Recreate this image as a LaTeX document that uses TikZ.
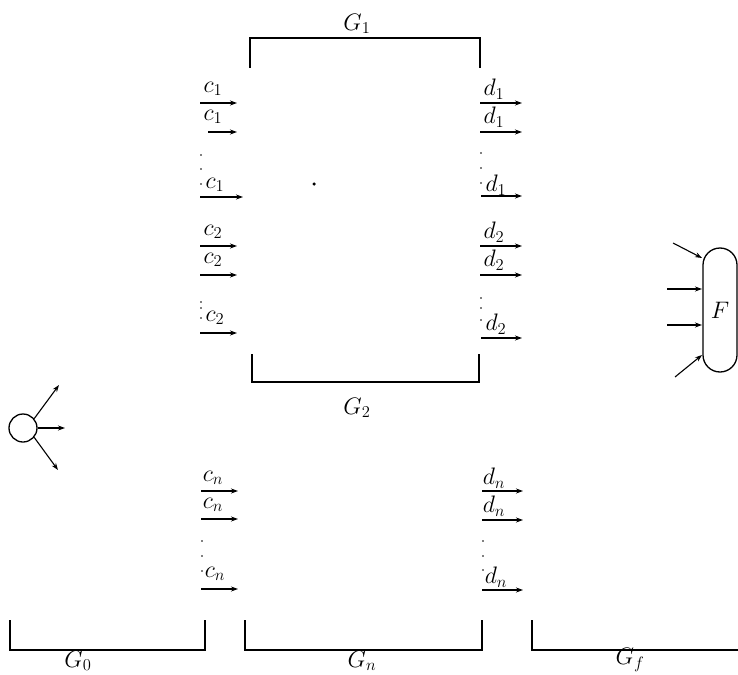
\documentclass[tikz,border=0pt]{standalone}
\usetikzlibrary{arrows.meta}
\begin{document}
\begin{tikzpicture}[x=1pt,y=-1pt,
  arr/.style={-{Stealth[length=7pt,width=5pt]}, line width=1.1pt},
  lab/.style={font=\fontsize{21}{25}\selectfont, inner sep=0pt, scale=1.15},
  brk/.style={line width=1.3pt},
  dotm/.style={circle, fill, inner sep=0pt, minimum size=1.8pt}]
\useasboundingbox (0,0) rectangle (738,674);
% brackets
\coordinate (g1a) at (250,68); \coordinate (g1b) at (250,38); \coordinate (g1c) at (480,38); \coordinate (g1d) at (480,68);
\draw[brk] (g1a) -- (g1b) -- (g1c) -- (g1d);
\node[lab] (G1) at (357,24) {$G_1$};
\coordinate (g2a) at (252,354); \coordinate (g2b) at (252,382); \coordinate (g2c) at (479,382); \coordinate (g2d) at (479,354);
\draw[brk] (g2a) -- (g2b) -- (g2c) -- (g2d);
\node[lab] (G2) at (357,408) {$G_2$};
\coordinate (g0a) at (10,620); \coordinate (g0b) at (10,650); \coordinate (g0c) at (205,650); \coordinate (g0d) at (205,620);
\draw[brk] (g0a) -- (g0b) -- (g0c) -- (g0d);
\node[lab] (G0) at (78,661) {$G_0$};
\coordinate (gna) at (245,620); \coordinate (gnb) at (245,650); \coordinate (gnc) at (482,650); \coordinate (gnd) at (482,620);
\draw[brk] (gna) -- (gnb) -- (gnc) -- (gnd);
\node[lab] (Gn) at (362,661) {$G_n$};
\coordinate (gfa) at (532,620); \coordinate (gfb) at (532,650); \coordinate (gfc) at (738,650);
\draw[brk] (gfa) -- (gfb) -- (gfc);
\node[lab] (Gf) at (630,660) {$G_f$};
% labelled arrows
\foreach \n/\t/\lx/\ly/\xa/\xb/\yy in {
  a1/c_1/213/89/200/237/103, a2/c_1/213/117/208/237/132, a3/c_1/215/185/200/243/197,
  a4/c_2/213/232/200/237/246, a5/c_2/213/260/200/237/275, a6/c_2/215/318/200/237/333,
  b1/d_1/494/89/480/522/103, b2/d_1/494/117/480/522/132, b3/d_1/496/185/481/522/196,
  b4/d_2/494/232/480/522/246, b5/d_2/494/260/480/522/275, b6/d_2/496/324/481/522/338,
  e1/c_n/213/478/201/238/491, e2/c_n/213/505/201/238/519, e3/c_n/215/574/201/238/589,
  f1/d_n/494/478/482/523/491, f2/d_n/494/506/482/523/520, f3/d_n/496/577/482/523/590}{
  \node[lab] (l\n) at (\lx,\ly) {$\t$};
  \coordinate (s\n) at (\xa,\yy); \coordinate (e\n) at (\xb,\yy);
  \draw[arr] (s\n) -- (e\n);
}
% vertical dots
\foreach \n/\x/\y in {p1/201/155, p2/201/169, p3/201/184, p4/201/302, p5/201/308, p6/201/318,
  q1/481/153, q2/481/168, q3/481/183, q4/481/298, q5/481/308, q6/481/320,
  r1/202/541, r2/202/556, r3/202/571, s1/483/541, s2/483/556, s3/483/570}{
  \node[dotm] (\n) at (\x,\y) {};
}
\node[dotm, minimum size=3.5pt] (cdot) at (314,184) {};
% F node
\node[draw, line width=1.3pt, rounded corners=17pt, minimum width=34pt, minimum height=124pt, inner sep=0pt] (F) at (720,310) {};
\node[lab] (Flab) at (F.center) {$F$};
\coordinate (fi1) at (673,243); \coordinate (fi2) at (667,289); \coordinate (fi3) at (667,325); \coordinate (fi4) at (675,377);
\coordinate (ft1) at (702,258); \coordinate (ft2) at (702,289); \coordinate (ft3) at (702,325); \coordinate (ft4) at (702,355);
\draw[arr] (fi1) -- (ft1);
\draw[arr] (fi2) -- (ft2);
\draw[arr] (fi3) -- (ft3);
\draw[arr] (fi4) -- (ft4);
% source circle
\node[draw, circle, line width=1.3pt, minimum size=28pt, inner sep=0pt] (o) at (23,428) {};
\coordinate (o1) at (59,385); \coordinate (o2) at (65,428); \coordinate (o3) at (58,470);
\draw[arr] (o.40) -- (o1);
\draw[arr] (o.0) -- (o2);
\draw[arr] (o.-40) -- (o3);
\end{tikzpicture}
\end{document}
